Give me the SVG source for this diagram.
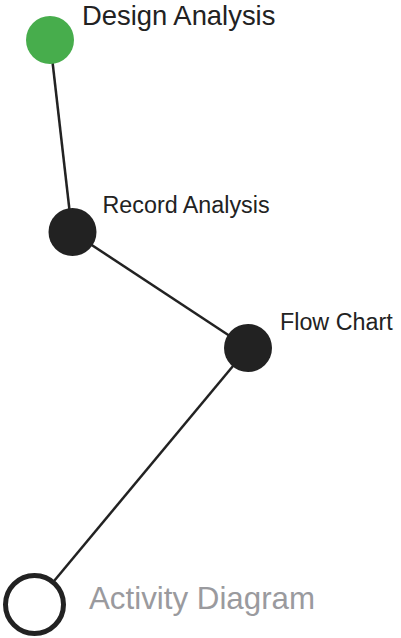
<svg xmlns="http://www.w3.org/2000/svg" width="401" height="638" viewBox="0 0 401 638">
  <style>
    .edge { stroke: #222; stroke-width: 2.5; fill: none; }
    .dot { fill: #222; }
    .label { font-family: "Liberation Sans", Arial, sans-serif; fill: #222; }
  </style>
  <rect width="401" height="638" fill="#fff"/>
  <g id="connectors">
    <line class="edge" x1="50" y1="40" x2="72" y2="232"/>
    <line class="edge" x1="72" y1="232" x2="248" y2="348"/>
    <line class="edge" x1="248" y1="348" x2="34.5" y2="604.5"/>
  </g>
  <g id="design-analysis">
    <circle cx="50" cy="40" r="24" fill="#47ad4c"/>
    <text class="label" x="82" y="25" font-size="27.4">Design Analysis</text>
  </g>
  <g id="record-analysis">
    <circle class="dot" cx="72.5" cy="232" r="24"/>
    <text class="label" x="102.5" y="213.3" font-size="23.3">Record Analysis</text>
  </g>
  <g id="flow-chart">
    <circle class="dot" cx="248" cy="348" r="24"/>
    <text class="label" x="280" y="330" font-size="23.3">Flow Chart</text>
  </g>
  <g id="activity-diagram">
    <circle cx="34.5" cy="604.5" r="29" fill="#fff" stroke="#222" stroke-width="5"/>
    <text class="label" x="89" y="609.3" font-size="31.3" style="fill:#9a9a9e">Activity Diagram</text>
  </g>
</svg>
